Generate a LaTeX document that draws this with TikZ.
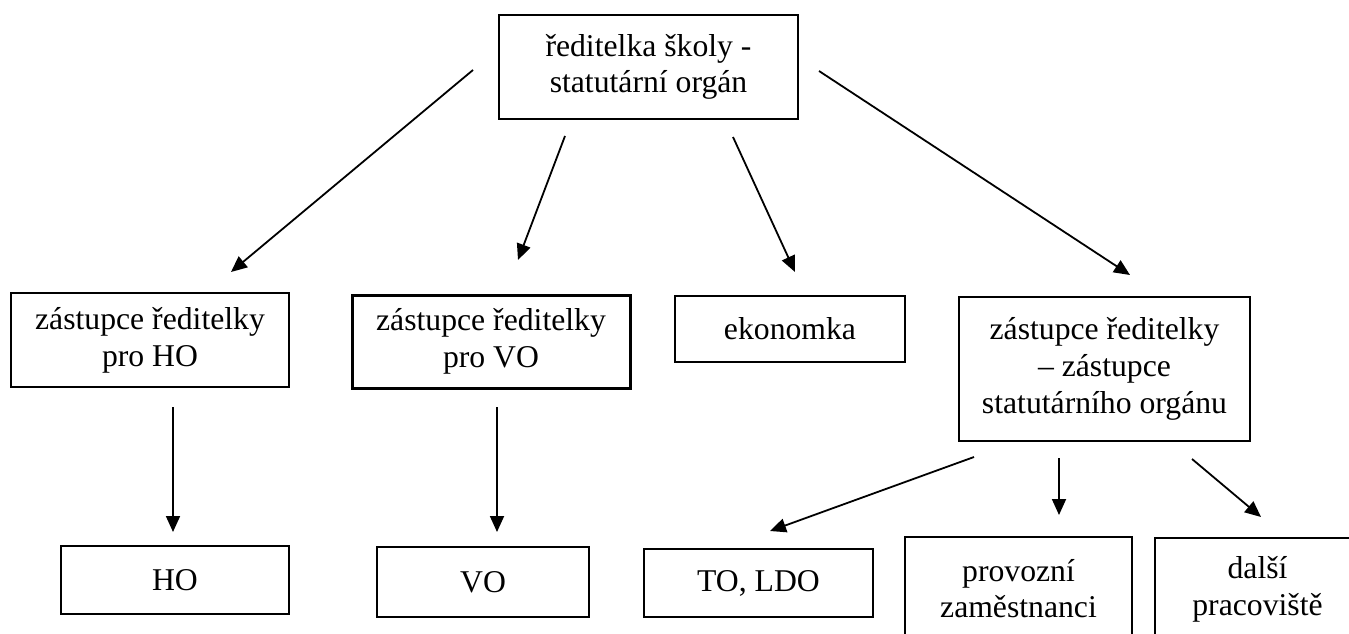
\documentclass[tikz,border=0pt]{standalone}
\usepackage{fontspec}
\setmainfont{Liberation Serif}
\usetikzlibrary{arrows.meta}

\begin{document}
\begin{tikzpicture}[x=1pt, y=-1pt,
    box/.style={draw, line width=2pt, align=center, inner sep=0pt,
        font=\fontsize{31.7}{36.7}\selectfont},
    arr/.style={-{Triangle[length=16pt,width=14pt]}, line width=1.8pt}]
    \useasboundingbox (0,0) rectangle (1349,634);
    \clip (0,0) rectangle (1349,634);

    % Statutarni organ
    \node[box, minimum width=299pt, minimum height=104pt] (reditelka) at (648.5,67) {ředitelka školy -\\statutární orgán};

    % Druha uroven
    \node[box, minimum width=278pt, minimum height=94pt] (zHO) at (150,340) {zástupce ředitelky\\pro HO};
    \node[box, line width=3pt, minimum width=278pt, minimum height=93pt] (zVO) at (491,341.5) {zástupce ředitelky\\pro VO};
    \node[box, minimum width=230pt, minimum height=66pt] (ekonomka) at (790,329) {ekonomka};
    \node[box, minimum width=291pt, minimum height=144pt] (zSO) at (1104.5,369) {zástupce ředitelky\\– zástupce\\statutárního orgánu};

    % Treti uroven
    \node[box, minimum width=228pt, minimum height=68pt] (HO) at (175,580) {HO};
    \node[box, minimum width=212pt, minimum height=70pt] (VO) at (483,582) {VO};
    \node[box, minimum width=229pt, minimum height=68pt] (TO) at (758.5,583) {TO, LDO};
    \node[box, minimum width=227pt, minimum height=103pt] (provozni) at (1018.5,588.5) {provozní\\zaměstnanci};
    \node[box, minimum width=205pt, minimum height=103pt] (dalsi) at (1257.5,589.5) {další\\pracoviště};

    % Konce sipek
    \coordinate (r1) at (473,70);   \coordinate (zHO-in) at (231,272);
    \coordinate (r2) at (565,136);  \coordinate (zVO-in) at (518,260);
    \coordinate (r3) at (733,137);  \coordinate (eko-in) at (795,272);
    \coordinate (r4) at (819,71);   \coordinate (zSO-in) at (1130,275);
    \coordinate (h1) at (173,407);  \coordinate (HO-in) at (173,532);
    \coordinate (v1) at (497,407);  \coordinate (VO-in) at (497,532);
    \coordinate (s1) at (974,457);  \coordinate (TO-in) at (770,531);
    \coordinate (s2) at (1059,458); \coordinate (prov-in) at (1059,515);
    \coordinate (s3) at (1192,459); \coordinate (dalsi-in) at (1261,517);

    % Sipky
    \draw[arr] (r1) -- (zHO-in);
    \draw[arr] (r2) -- (zVO-in);
    \draw[arr] (r3) -- (eko-in);
    \draw[arr] (r4) -- (zSO-in);
    \draw[arr] (h1) -- (HO-in);
    \draw[arr] (v1) -- (VO-in);
    \draw[arr] (s1) -- (TO-in);
    \draw[arr] (s2) -- (prov-in);
    \draw[arr] (s3) -- (dalsi-in);
\end{tikzpicture}
\end{document}
